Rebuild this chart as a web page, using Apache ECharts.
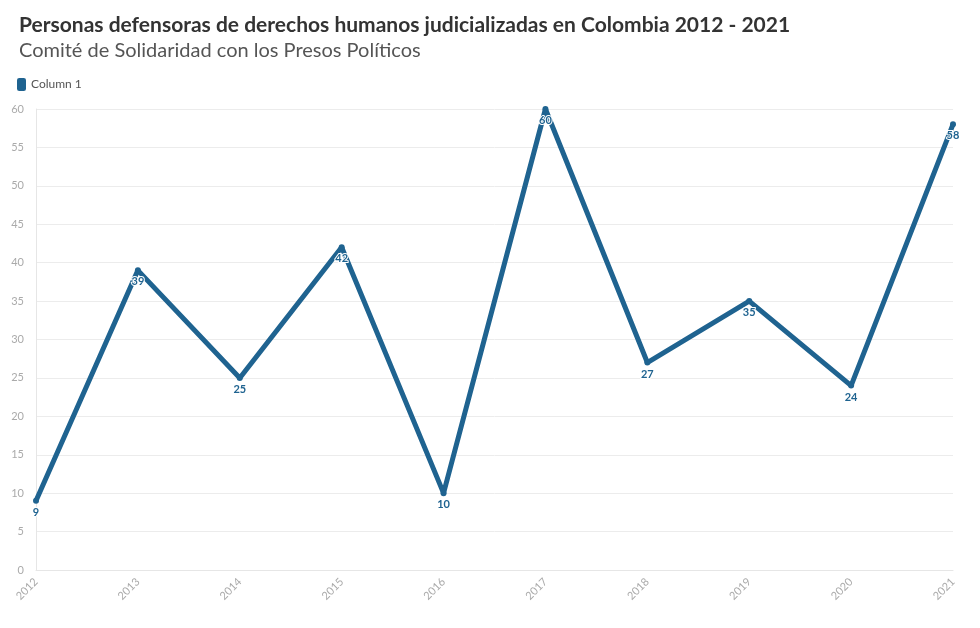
<!DOCTYPE html><html><head><meta charset="utf-8"><script src="https://cdn.jsdelivr.net/npm/echarts@6/dist/echarts.min.js"></script>
<style>body{margin:0}#c{width:980px;height:628px}</style></head><body><div id="c"></div><script>
const categories=['2012','2013','2014','2015','2016','2017','2018','2019','2020','2021'];
const values=[9,39,25,42,10,60,27,35,24,58];
const yTicks=[0,5,10,15,20,25,30,35,40,45,50,55,60];
const c=echarts.init(document.getElementById('c'));
const F='"Source Sans Pro","Lato","Noto Sans",sans-serif';
c.setOption({
animation:false,
title:[{text:'Personas defensoras de derechos humanos judicializadas en Colombia 2012 - 2021',left:14,top:10,textStyle:{fontFamily:F,fontSize:21,fontWeight:'bold',color:'#333'}},
{text:'Comité de Solidaridad con los Presos Políticos',left:14,top:36,textStyle:{fontFamily:F,fontSize:20,fontWeight:'normal',color:'#555'}}],
legend:{left:12,top:73,itemWidth:9,itemHeight:13,icon:'roundRect',itemGap:4,textStyle:{fontFamily:F,fontSize:12,color:'#555'},data:['Column 1']},
grid:{left:36,right:27,top:109,bottom:58},
xAxis:{type:'category',boundaryGap:false,data:categories,axisLine:{lineStyle:{color:'#e6e6e6'}},axisTick:{show:false},
axisLabel:{rotate:45,color:'#aaa',fontFamily:F,fontSize:11,margin:10}},
yAxis:{type:'value',min:0,max:60,interval:5,axisLabel:{color:'#aaa',fontFamily:F,fontSize:11,margin:12,formatter:v=>yTicks.includes(v)?v:''},
splitLine:{lineStyle:{color:'#ececec'}},axisLine:{show:true,lineStyle:{color:'#e6e6e6'}}},
series:[{name:'Column 1',type:'line',data:values,color:'#1f6390',lineStyle:{width:5},symbol:'circle',symbolSize:6,
label:{show:true,position:'bottom',distance:3,color:'#1f6390',fontWeight:'bold',fontSize:11,fontFamily:F,textBorderColor:'#fff',textBorderWidth:2}}]
});
</script></body></html>
